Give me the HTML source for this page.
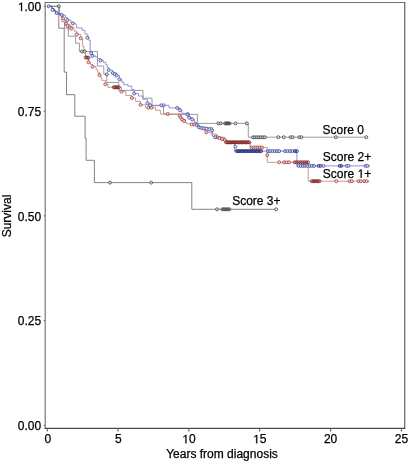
<!DOCTYPE html>
<html><head><meta charset="utf-8"><style>
html,body{margin:0;padding:0;background:#fff;}
body{width:408px;height:461px;overflow:hidden;}
svg{display:block;font-family:"Liberation Sans",sans-serif;}
.h1{fill-opacity:0;stroke-opacity:0;}
</style></head><body>
<svg width="408" height="461" viewBox="0 0 408 461">
<rect width="408" height="461" fill="#fff"/>
<g filter="url(#bl)">

<g fill="none" stroke-width="0.85" stroke-linejoin="miter">
  <path d="M47.0,6.3L58.8,6.3L58.8,28.2L64.2,28.2L64.2,72.1L66.5,72.1L66.5,94.7L74.8,94.7L74.8,116.2L85.1,116.2L85.1,138.2L86.1,138.2L86.1,160.3L94.4,160.3L94.4,182.6L191.8,182.6L191.8,209.3L276.5,209.3" stroke="#736a68"/>
  <path d="M47.0,6.3L59.6,6.3L59.6,15.0L61.9,15.0L61.9,21.8L64.5,21.8L64.5,28.2L68.3,28.2L68.3,36.2L75.6,36.2L75.6,43.2L79.4,43.2L79.4,51.5L97.4,51.5L97.4,66.0L103.8,66.0L103.8,74.3L106.8,74.3L106.8,82.4L118.8,82.4L118.8,90.4L143.0,90.4L143.0,98.2L152.0,98.2L152.0,105.6L163.5,105.6L163.5,114.4L197.4,114.4L197.4,123.4L248.3,123.4L248.3,137.2L366.3,137.2" stroke="#858a8c"/>
  <path d="M47.0,6.3H52.0V8.5H53.9V10.8H55.8V13.2H58.5V14.2H61.0V15.2H63.1V18.4H64.5V21.0H66.0V24.3H69.7V27.2H74.0V31.0H76.8V34.4H80.7V38.3H82.6V46.5H84.0V50.0H85.6V57.4H88.5V62.3H90.5V64.5H92.5V66.7H96.0V69.6H97.7V72.3H99.4V75.0H100.7V77.7H101.9V80.4H105.3V84.3H108.0V87.3H120.0H121.4V91.6H125.8V95.5H131.9V98.0H135.6V101.4H140.5V104.8H145.4V107.7H150.0H155.5V110.3H160.4V113.4V114.0H178.2H180.0V117.0H182.0V119.5H185.5V122.6H186.8V123.8H195.3V124.4H197.8V127.5H202.1V129.9H206.3V132.3H211.2V134.2H217.0V137.2H224.9V140.1H226.9V142.3H250.2V147.5H267.2V162.3H308.2V181.2H369.6" stroke="#c88480"/>
  <path d="M47.0,6.3H52.0V8.5H53.9V10.8H55.8V13.2H58.5V14.2H61.7V15.0H65.4V17.3H67.3V20.1H71.0V22.9H72.9V23.4H75.7V24.8H76.6V28.0H81.3H82.2V30.3H85.0V34.1H87.8V37.8H89.0V40.5H90.2V50.8H91.1V53.1H92.5V55.9H95.3V56.8H97.6V58.7H100.6V60.0H103.2V62.4H105.8V64.7H107.2V67.4H108.7V70.1H112.7V73.0H116.6V75.5H119.5V79.4H121.7V82.1H123.8V84.7H128.0V86.2H131.7V89.6H134.1V93.5H138.5V96.0H142.9V99.2H147.4V103.3H150.0V105.3H162.3H169.0V106.0V107.9H177.0H180.0V110.3H182.0V113.4H187.4V114.6H189.2V117.7H192.3V119.5H194.4V122.2H196.6V125.0H199.4V127.4H212.5V130.3V136.2H215.1V137.2H221.0V140.0H224.9V143.5H234.7V151.1H296.9V165.9H369.6" stroke="#7b84c4"/>
  <path d="M47.0,6.3H52.0V8.5H53.9V10.8H55.8V13.2H58.5V14.2H61.2V15.0" stroke="#6a5c8c" stroke-width="0.9"/>
</g>
<g fill="none" stroke-width="0.8"><circle cx="110.0" cy="182.6" r="1.5" stroke="#4f4240" fill="#e6e2e0" fill-opacity="0.75"/><circle cx="151.2" cy="182.6" r="1.5" stroke="#4f4240" fill="#e6e2e0" fill-opacity="0.75"/><circle cx="217.0" cy="209.3" r="1.5" stroke="#4f4240" fill="#e6e2e0" fill-opacity="0.75"/><circle cx="276.2" cy="209.3" r="1.5" stroke="#4f4240" fill="#e6e2e0" fill-opacity="0.75"/><circle cx="222.3" cy="209.3" r="1.5" stroke="#4f4240" fill="none" fill-opacity="0.75"/><circle cx="223.7" cy="209.3" r="1.5" stroke="#4f4240" fill="none" fill-opacity="0.75"/><circle cx="225.1" cy="209.3" r="1.5" stroke="#4f4240" fill="none" fill-opacity="0.75"/><circle cx="226.5" cy="209.3" r="1.5" stroke="#4f4240" fill="none" fill-opacity="0.75"/><circle cx="227.9" cy="209.3" r="1.5" stroke="#4f4240" fill="none" fill-opacity="0.75"/><circle cx="229.3" cy="209.3" r="1.5" stroke="#4f4240" fill="none" fill-opacity="0.75"/></g>
<g fill="none" stroke-width="0.8"><circle cx="58.8" cy="6.2" r="1.5" stroke="#3c4446" fill="#e2e6e8" fill-opacity="0.75"/><circle cx="82.0" cy="51.5" r="1.5" stroke="#3c4446" fill="#e2e6e8" fill-opacity="0.75"/><circle cx="84.5" cy="51.5" r="1.5" stroke="#3c4446" fill="#e2e6e8" fill-opacity="0.75"/><circle cx="106.8" cy="74.3" r="1.5" stroke="#3c4446" fill="#e2e6e8" fill-opacity="0.75"/><circle cx="187.8" cy="114.2" r="1.5" stroke="#3c4446" fill="#e2e6e8" fill-opacity="0.75"/><circle cx="218.3" cy="123.4" r="1.5" stroke="#3c4446" fill="#e2e6e8" fill-opacity="0.75"/><circle cx="220.8" cy="123.4" r="1.5" stroke="#3c4446" fill="#e2e6e8" fill-opacity="0.75"/><circle cx="225.2" cy="123.4" r="1.5" stroke="#2a3034" fill="none" fill-opacity="0.75"/><circle cx="226.7" cy="123.4" r="1.5" stroke="#2a3034" fill="none" fill-opacity="0.75"/><circle cx="228.1" cy="123.4" r="1.5" stroke="#2a3034" fill="none" fill-opacity="0.75"/><circle cx="229.6" cy="123.4" r="1.5" stroke="#2a3034" fill="none" fill-opacity="0.75"/><circle cx="235.5" cy="123.4" r="1.5" stroke="#3c4446" fill="#e2e6e8" fill-opacity="0.75"/><circle cx="246.8" cy="123.4" r="1.5" stroke="#3c4446" fill="#e2e6e8" fill-opacity="0.75"/><circle cx="253.0" cy="137.3" r="1.5" stroke="#3c4446" fill="#e2e6e8" fill-opacity="0.75"/><circle cx="255.0" cy="137.3" r="1.5" stroke="#3c4446" fill="#e2e6e8" fill-opacity="0.75"/><circle cx="257.0" cy="137.3" r="1.5" stroke="#3c4446" fill="#e2e6e8" fill-opacity="0.75"/><circle cx="259.0" cy="137.3" r="1.5" stroke="#3c4446" fill="#e2e6e8" fill-opacity="0.75"/><circle cx="261.0" cy="137.3" r="1.5" stroke="#3c4446" fill="#e2e6e8" fill-opacity="0.75"/><circle cx="263.0" cy="137.3" r="1.5" stroke="#3c4446" fill="#e2e6e8" fill-opacity="0.75"/><circle cx="265.0" cy="137.3" r="1.5" stroke="#3c4446" fill="#e2e6e8" fill-opacity="0.75"/><circle cx="278.3" cy="137.2" r="1.5" stroke="#3c4446" fill="#e2e6e8" fill-opacity="0.75"/><circle cx="283.7" cy="137.2" r="1.5" stroke="#3c4446" fill="#e2e6e8" fill-opacity="0.75"/><circle cx="290.6" cy="137.2" r="1.5" stroke="#3c4446" fill="#e2e6e8" fill-opacity="0.75"/><circle cx="292.6" cy="137.2" r="1.5" stroke="#3c4446" fill="#e2e6e8" fill-opacity="0.75"/><circle cx="299.4" cy="137.2" r="1.5" stroke="#3c4446" fill="#e2e6e8" fill-opacity="0.75"/><circle cx="301.4" cy="137.2" r="1.5" stroke="#3c4446" fill="#e2e6e8" fill-opacity="0.75"/><circle cx="335.9" cy="137.2" r="1.5" stroke="#3c4446" fill="#e2e6e8" fill-opacity="0.75"/><circle cx="366.3" cy="137.2" r="1.5" stroke="#3c4446" fill="#e2e6e8" fill-opacity="0.75"/></g>
<g fill="none" stroke-width="0.8"><circle cx="63.1" cy="18.4" r="1.5" stroke="#a03a3a" fill="#f4dede" fill-opacity="0.75"/><circle cx="66.0" cy="23.8" r="1.5" stroke="#a03a3a" fill="#f4dede" fill-opacity="0.75"/><circle cx="67.5" cy="25.6" r="1.5" stroke="#a03a3a" fill="#f4dede" fill-opacity="0.75"/><circle cx="69.7" cy="27.2" r="1.5" stroke="#a03a3a" fill="#f4dede" fill-opacity="0.75"/><circle cx="71.2" cy="28.5" r="1.5" stroke="#a03a3a" fill="#f4dede" fill-opacity="0.75"/><circle cx="76.8" cy="34.4" r="1.5" stroke="#a03a3a" fill="#f4dede" fill-opacity="0.75"/><circle cx="80.7" cy="38.3" r="1.5" stroke="#a03a3a" fill="#f4dede" fill-opacity="0.75"/><circle cx="85.6" cy="57.4" r="1.5" stroke="#7e1c1c" fill="none" fill-opacity="0.75"/><circle cx="87.0" cy="57.6" r="1.5" stroke="#7e1c1c" fill="none" fill-opacity="0.75"/><circle cx="88.5" cy="57.8" r="1.5" stroke="#7e1c1c" fill="none" fill-opacity="0.75"/><circle cx="88.5" cy="62.3" r="1.5" stroke="#a03a3a" fill="#f4dede" fill-opacity="0.75"/><circle cx="92.5" cy="66.7" r="1.5" stroke="#a03a3a" fill="#f4dede" fill-opacity="0.75"/><circle cx="99.4" cy="75.0" r="1.5" stroke="#a03a3a" fill="#f4dede" fill-opacity="0.75"/><circle cx="105.3" cy="84.3" r="1.5" stroke="#a03a3a" fill="#f4dede" fill-opacity="0.75"/><circle cx="121.4" cy="91.6" r="1.5" stroke="#a03a3a" fill="#f4dede" fill-opacity="0.75"/><circle cx="131.9" cy="98.0" r="1.5" stroke="#a03a3a" fill="#f4dede" fill-opacity="0.75"/><circle cx="140.5" cy="104.8" r="1.5" stroke="#a03a3a" fill="#f4dede" fill-opacity="0.75"/><circle cx="148.4" cy="107.7" r="1.5" stroke="#a03a3a" fill="#f4dede" fill-opacity="0.75"/><circle cx="151.5" cy="107.7" r="1.5" stroke="#a03a3a" fill="#f4dede" fill-opacity="0.75"/><circle cx="167.8" cy="114.0" r="1.5" stroke="#a03a3a" fill="#f4dede" fill-opacity="0.75"/><circle cx="179.7" cy="115.5" r="1.5" stroke="#a03a3a" fill="#f4dede" fill-opacity="0.75"/><circle cx="180.5" cy="117.5" r="1.5" stroke="#a03a3a" fill="#f4dede" fill-opacity="0.75"/><circle cx="182.1" cy="119.5" r="1.5" stroke="#a03a3a" fill="#f4dede" fill-opacity="0.75"/><circle cx="184.0" cy="121.0" r="1.5" stroke="#a03a3a" fill="#f4dede" fill-opacity="0.75"/><circle cx="191.7" cy="124.4" r="1.5" stroke="#a03a3a" fill="#f4dede" fill-opacity="0.75"/><circle cx="194.5" cy="124.4" r="1.5" stroke="#a03a3a" fill="#f4dede" fill-opacity="0.75"/><circle cx="206.3" cy="132.3" r="1.5" stroke="#a03a3a" fill="#f4dede" fill-opacity="0.75"/><circle cx="217.0" cy="137.2" r="1.5" stroke="#a03a3a" fill="#f4dede" fill-opacity="0.75"/><circle cx="219.5" cy="138.0" r="1.5" stroke="#a03a3a" fill="#f4dede" fill-opacity="0.75"/><circle cx="222.0" cy="139.0" r="1.5" stroke="#a03a3a" fill="#f4dede" fill-opacity="0.75"/><circle cx="224.9" cy="140.1" r="1.5" stroke="#a03a3a" fill="#f4dede" fill-opacity="0.75"/><circle cx="113.8" cy="87.3" r="1.5" stroke="#7e1c1c" fill="none" fill-opacity="0.75"/><circle cx="115.0" cy="87.3" r="1.5" stroke="#7e1c1c" fill="none" fill-opacity="0.75"/><circle cx="116.3" cy="87.3" r="1.5" stroke="#7e1c1c" fill="none" fill-opacity="0.75"/><circle cx="117.5" cy="87.3" r="1.5" stroke="#7e1c1c" fill="none" fill-opacity="0.75"/><circle cx="118.8" cy="87.3" r="1.5" stroke="#7e1c1c" fill="none" fill-opacity="0.75"/><circle cx="226.5" cy="142.3" r="1.5" stroke="#7e1c1c" fill="none" fill-opacity="0.75"/><circle cx="227.8" cy="142.3" r="1.5" stroke="#7e1c1c" fill="none" fill-opacity="0.75"/><circle cx="229.2" cy="142.3" r="1.5" stroke="#7e1c1c" fill="none" fill-opacity="0.75"/><circle cx="230.5" cy="142.3" r="1.5" stroke="#7e1c1c" fill="none" fill-opacity="0.75"/><circle cx="231.8" cy="142.3" r="1.5" stroke="#7e1c1c" fill="none" fill-opacity="0.75"/><circle cx="233.2" cy="142.3" r="1.5" stroke="#7e1c1c" fill="none" fill-opacity="0.75"/><circle cx="234.5" cy="142.3" r="1.5" stroke="#7e1c1c" fill="none" fill-opacity="0.75"/><circle cx="235.8" cy="142.3" r="1.5" stroke="#7e1c1c" fill="none" fill-opacity="0.75"/><circle cx="237.2" cy="142.3" r="1.5" stroke="#7e1c1c" fill="none" fill-opacity="0.75"/><circle cx="238.5" cy="142.3" r="1.5" stroke="#7e1c1c" fill="none" fill-opacity="0.75"/><circle cx="239.9" cy="142.3" r="1.5" stroke="#7e1c1c" fill="none" fill-opacity="0.75"/><circle cx="241.2" cy="142.3" r="1.5" stroke="#7e1c1c" fill="none" fill-opacity="0.75"/><circle cx="242.5" cy="142.3" r="1.5" stroke="#7e1c1c" fill="none" fill-opacity="0.75"/><circle cx="243.9" cy="142.3" r="1.5" stroke="#7e1c1c" fill="none" fill-opacity="0.75"/><circle cx="245.2" cy="142.3" r="1.5" stroke="#7e1c1c" fill="none" fill-opacity="0.75"/><circle cx="246.5" cy="142.3" r="1.5" stroke="#7e1c1c" fill="none" fill-opacity="0.75"/><circle cx="247.9" cy="142.3" r="1.5" stroke="#7e1c1c" fill="none" fill-opacity="0.75"/><circle cx="249.2" cy="142.3" r="1.5" stroke="#7e1c1c" fill="none" fill-opacity="0.75"/><circle cx="251.5" cy="147.5" r="1.5" stroke="#a03a3a" fill="#f4dede" fill-opacity="0.75"/><circle cx="253.6" cy="147.5" r="1.5" stroke="#a03a3a" fill="#f4dede" fill-opacity="0.75"/><circle cx="255.7" cy="147.5" r="1.5" stroke="#a03a3a" fill="#f4dede" fill-opacity="0.75"/><circle cx="257.8" cy="147.5" r="1.5" stroke="#a03a3a" fill="#f4dede" fill-opacity="0.75"/><circle cx="259.9" cy="147.5" r="1.5" stroke="#a03a3a" fill="#f4dede" fill-opacity="0.75"/><circle cx="262.0" cy="147.5" r="1.5" stroke="#a03a3a" fill="#f4dede" fill-opacity="0.75"/><circle cx="267.2" cy="155.1" r="1.5" stroke="#a03a3a" fill="#f4dede" fill-opacity="0.75"/><circle cx="279.2" cy="162.3" r="1.5" stroke="#a03a3a" fill="#f4dede" fill-opacity="0.75"/><circle cx="284.0" cy="162.3" r="1.5" stroke="#a03a3a" fill="#f4dede" fill-opacity="0.75"/><circle cx="286.5" cy="162.3" r="1.5" stroke="#a03a3a" fill="#f4dede" fill-opacity="0.75"/><circle cx="289.0" cy="162.3" r="1.5" stroke="#a03a3a" fill="#f4dede" fill-opacity="0.75"/><circle cx="294.5" cy="162.3" r="1.5" stroke="#7e1c1c" fill="none" fill-opacity="0.75"/><circle cx="296.4" cy="162.3" r="1.5" stroke="#7e1c1c" fill="none" fill-opacity="0.75"/><circle cx="298.4" cy="162.3" r="1.5" stroke="#7e1c1c" fill="none" fill-opacity="0.75"/><circle cx="300.3" cy="162.3" r="1.5" stroke="#7e1c1c" fill="none" fill-opacity="0.75"/><circle cx="302.2" cy="162.3" r="1.5" stroke="#7e1c1c" fill="none" fill-opacity="0.75"/><circle cx="304.1" cy="162.3" r="1.5" stroke="#7e1c1c" fill="none" fill-opacity="0.75"/><circle cx="306.1" cy="162.3" r="1.5" stroke="#7e1c1c" fill="none" fill-opacity="0.75"/><circle cx="308.0" cy="162.3" r="1.5" stroke="#7e1c1c" fill="none" fill-opacity="0.75"/><circle cx="311.8" cy="181.2" r="1.5" stroke="#7e1c1c" fill="none" fill-opacity="0.75"/><circle cx="313.3" cy="181.2" r="1.5" stroke="#7e1c1c" fill="none" fill-opacity="0.75"/><circle cx="314.8" cy="181.2" r="1.5" stroke="#7e1c1c" fill="none" fill-opacity="0.75"/><circle cx="316.4" cy="181.2" r="1.5" stroke="#7e1c1c" fill="none" fill-opacity="0.75"/><circle cx="317.9" cy="181.2" r="1.5" stroke="#7e1c1c" fill="none" fill-opacity="0.75"/><circle cx="319.4" cy="181.2" r="1.5" stroke="#7e1c1c" fill="none" fill-opacity="0.75"/><circle cx="336.3" cy="181.2" r="1.5" stroke="#a03a3a" fill="#f4dede" fill-opacity="0.75"/><circle cx="349.6" cy="181.2" r="1.5" stroke="#a03a3a" fill="#f4dede" fill-opacity="0.75"/><circle cx="351.8" cy="181.2" r="1.5" stroke="#a03a3a" fill="#f4dede" fill-opacity="0.75"/><circle cx="358.6" cy="181.2" r="1.5" stroke="#a03a3a" fill="#f4dede" fill-opacity="0.75"/><circle cx="360.8" cy="181.2" r="1.5" stroke="#a03a3a" fill="#f4dede" fill-opacity="0.75"/><circle cx="364.2" cy="181.2" r="1.5" stroke="#a03a3a" fill="#f4dede" fill-opacity="0.75"/><circle cx="366.6" cy="181.2" r="1.5" stroke="#a03a3a" fill="#f4dede" fill-opacity="0.75"/></g>
<g fill="none" stroke-width="0.8"><circle cx="48.6" cy="6.3" r="1.5" stroke="#3e4aa4" fill="#dfe2f6" fill-opacity="0.75"/><circle cx="52.6" cy="9.9" r="1.5" stroke="#3e4aa4" fill="#dfe2f6" fill-opacity="0.75"/><circle cx="56.6" cy="13.0" r="1.5" stroke="#3e4aa4" fill="#dfe2f6" fill-opacity="0.75"/><circle cx="61.7" cy="15.0" r="1.5" stroke="#3e4aa4" fill="#dfe2f6" fill-opacity="0.75"/><circle cx="67.3" cy="20.1" r="1.5" stroke="#3e4aa4" fill="#dfe2f6" fill-opacity="0.75"/><circle cx="72.9" cy="23.4" r="1.5" stroke="#3e4aa4" fill="#dfe2f6" fill-opacity="0.75"/><circle cx="87.3" cy="37.8" r="1.5" stroke="#3e4aa4" fill="#dfe2f6" fill-opacity="0.75"/><circle cx="91.1" cy="53.1" r="1.5" stroke="#3e4aa4" fill="#dfe2f6" fill-opacity="0.75"/><circle cx="92.5" cy="55.9" r="1.5" stroke="#3e4aa4" fill="#dfe2f6" fill-opacity="0.75"/><circle cx="100.4" cy="60.5" r="1.5" stroke="#3e4aa4" fill="#dfe2f6" fill-opacity="0.75"/><circle cx="108.7" cy="70.1" r="1.5" stroke="#3e4aa4" fill="#dfe2f6" fill-opacity="0.75"/><circle cx="112.7" cy="73.0" r="1.5" stroke="#3e4aa4" fill="#dfe2f6" fill-opacity="0.75"/><circle cx="114.6" cy="74.2" r="1.5" stroke="#3e4aa4" fill="#dfe2f6" fill-opacity="0.75"/><circle cx="116.6" cy="75.5" r="1.5" stroke="#3e4aa4" fill="#dfe2f6" fill-opacity="0.75"/><circle cx="119.5" cy="79.4" r="1.5" stroke="#3e4aa4" fill="#dfe2f6" fill-opacity="0.75"/><circle cx="134.1" cy="93.5" r="1.5" stroke="#3e4aa4" fill="#dfe2f6" fill-opacity="0.75"/><circle cx="147.4" cy="103.3" r="1.5" stroke="#3e4aa4" fill="#dfe2f6" fill-opacity="0.75"/><circle cx="150.2" cy="105.3" r="1.5" stroke="#3e4aa4" fill="#dfe2f6" fill-opacity="0.75"/><circle cx="161.3" cy="105.3" r="1.5" stroke="#3e4aa4" fill="#dfe2f6" fill-opacity="0.75"/><circle cx="163.7" cy="105.3" r="1.5" stroke="#3e4aa4" fill="#dfe2f6" fill-opacity="0.75"/><circle cx="177.2" cy="107.9" r="1.5" stroke="#3e4aa4" fill="#dfe2f6" fill-opacity="0.75"/><circle cx="180.0" cy="110.3" r="1.5" stroke="#3e4aa4" fill="#dfe2f6" fill-opacity="0.75"/><circle cx="187.4" cy="114.6" r="1.5" stroke="#3e4aa4" fill="#dfe2f6" fill-opacity="0.75"/><circle cx="189.2" cy="117.7" r="1.5" stroke="#3e4aa4" fill="#dfe2f6" fill-opacity="0.75"/><circle cx="192.3" cy="119.5" r="1.5" stroke="#3e4aa4" fill="#dfe2f6" fill-opacity="0.75"/><circle cx="196.6" cy="125.0" r="1.5" stroke="#3e4aa4" fill="#dfe2f6" fill-opacity="0.75"/><circle cx="199.0" cy="127.4" r="1.5" stroke="#3e4aa4" fill="#dfe2f6" fill-opacity="0.75"/><circle cx="201.5" cy="127.8" r="1.5" stroke="#3e4aa4" fill="#dfe2f6" fill-opacity="0.75"/><circle cx="204.0" cy="128.3" r="1.5" stroke="#3e4aa4" fill="#dfe2f6" fill-opacity="0.75"/><circle cx="206.5" cy="128.8" r="1.5" stroke="#3e4aa4" fill="#dfe2f6" fill-opacity="0.75"/><circle cx="209.5" cy="129.5" r="1.5" stroke="#3e4aa4" fill="#dfe2f6" fill-opacity="0.75"/><circle cx="212.2" cy="130.3" r="1.5" stroke="#3e4aa4" fill="#dfe2f6" fill-opacity="0.75"/><circle cx="215.1" cy="137.2" r="1.5" stroke="#3e4aa4" fill="#dfe2f6" fill-opacity="0.75"/><circle cx="235.3" cy="146.6" r="1.5" stroke="#3e4aa4" fill="#dfe2f6" fill-opacity="0.75"/><circle cx="236.5" cy="151.1" r="1.5" stroke="#1e2a80" fill="none" fill-opacity="0.75"/><circle cx="237.9" cy="151.1" r="1.5" stroke="#1e2a80" fill="none" fill-opacity="0.75"/><circle cx="239.2" cy="151.1" r="1.5" stroke="#1e2a80" fill="none" fill-opacity="0.75"/><circle cx="240.6" cy="151.1" r="1.5" stroke="#1e2a80" fill="none" fill-opacity="0.75"/><circle cx="242.0" cy="151.1" r="1.5" stroke="#1e2a80" fill="none" fill-opacity="0.75"/><circle cx="243.4" cy="151.1" r="1.5" stroke="#1e2a80" fill="none" fill-opacity="0.75"/><circle cx="244.7" cy="151.1" r="1.5" stroke="#1e2a80" fill="none" fill-opacity="0.75"/><circle cx="246.1" cy="151.1" r="1.5" stroke="#1e2a80" fill="none" fill-opacity="0.75"/><circle cx="247.5" cy="151.1" r="1.5" stroke="#1e2a80" fill="none" fill-opacity="0.75"/><circle cx="248.8" cy="151.1" r="1.5" stroke="#1e2a80" fill="none" fill-opacity="0.75"/><circle cx="250.2" cy="151.1" r="1.5" stroke="#1e2a80" fill="none" fill-opacity="0.75"/><circle cx="251.6" cy="151.1" r="1.5" stroke="#1e2a80" fill="none" fill-opacity="0.75"/><circle cx="253.0" cy="151.1" r="1.5" stroke="#1e2a80" fill="none" fill-opacity="0.75"/><circle cx="254.3" cy="151.1" r="1.5" stroke="#1e2a80" fill="none" fill-opacity="0.75"/><circle cx="255.7" cy="151.1" r="1.5" stroke="#1e2a80" fill="none" fill-opacity="0.75"/><circle cx="257.1" cy="151.1" r="1.5" stroke="#1e2a80" fill="none" fill-opacity="0.75"/><circle cx="258.5" cy="151.1" r="1.5" stroke="#1e2a80" fill="none" fill-opacity="0.75"/><circle cx="259.8" cy="151.1" r="1.5" stroke="#1e2a80" fill="none" fill-opacity="0.75"/><circle cx="261.2" cy="151.1" r="1.5" stroke="#1e2a80" fill="none" fill-opacity="0.75"/><circle cx="268.0" cy="151.1" r="1.5" stroke="#3e4aa4" fill="#dfe2f6" fill-opacity="0.75"/><circle cx="270.2" cy="151.1" r="1.5" stroke="#3e4aa4" fill="#dfe2f6" fill-opacity="0.75"/><circle cx="272.5" cy="151.1" r="1.5" stroke="#3e4aa4" fill="#dfe2f6" fill-opacity="0.75"/><circle cx="274.7" cy="151.1" r="1.5" stroke="#3e4aa4" fill="#dfe2f6" fill-opacity="0.75"/><circle cx="277.0" cy="151.1" r="1.5" stroke="#3e4aa4" fill="#dfe2f6" fill-opacity="0.75"/><circle cx="279.2" cy="151.1" r="1.5" stroke="#3e4aa4" fill="#dfe2f6" fill-opacity="0.75"/><circle cx="285.0" cy="151.1" r="1.5" stroke="#3e4aa4" fill="#dfe2f6" fill-opacity="0.75"/><circle cx="287.5" cy="151.1" r="1.5" stroke="#3e4aa4" fill="#dfe2f6" fill-opacity="0.75"/><circle cx="290.0" cy="151.1" r="1.5" stroke="#3e4aa4" fill="#dfe2f6" fill-opacity="0.75"/><circle cx="292.5" cy="151.1" r="1.5" stroke="#3e4aa4" fill="#dfe2f6" fill-opacity="0.75"/><circle cx="295.0" cy="151.1" r="1.5" stroke="#1e2a80" fill="none" fill-opacity="0.75"/><circle cx="296.9" cy="151.1" r="1.5" stroke="#1e2a80" fill="none" fill-opacity="0.75"/><circle cx="298.5" cy="165.9" r="1.5" stroke="#3e4aa4" fill="#dfe2f6" fill-opacity="0.75"/><circle cx="300.7" cy="165.9" r="1.5" stroke="#3e4aa4" fill="#dfe2f6" fill-opacity="0.75"/><circle cx="302.9" cy="165.9" r="1.5" stroke="#3e4aa4" fill="#dfe2f6" fill-opacity="0.75"/><circle cx="305.1" cy="165.9" r="1.5" stroke="#3e4aa4" fill="#dfe2f6" fill-opacity="0.75"/><circle cx="307.4" cy="165.9" r="1.5" stroke="#3e4aa4" fill="#dfe2f6" fill-opacity="0.75"/><circle cx="309.6" cy="165.9" r="1.5" stroke="#3e4aa4" fill="#dfe2f6" fill-opacity="0.75"/><circle cx="311.8" cy="165.9" r="1.5" stroke="#3e4aa4" fill="#dfe2f6" fill-opacity="0.75"/><circle cx="314.0" cy="165.9" r="1.5" stroke="#3e4aa4" fill="#dfe2f6" fill-opacity="0.75"/><circle cx="318.6" cy="165.9" r="1.5" stroke="#1e2a80" fill="none" fill-opacity="0.75"/><circle cx="320.5" cy="165.9" r="1.5" stroke="#1e2a80" fill="none" fill-opacity="0.75"/><circle cx="323.5" cy="165.9" r="1.5" stroke="#3e4aa4" fill="#dfe2f6" fill-opacity="0.75"/><circle cx="339.8" cy="165.9" r="1.5" stroke="#1e2a80" fill="none" fill-opacity="0.75"/><circle cx="341.4" cy="165.9" r="1.5" stroke="#1e2a80" fill="none" fill-opacity="0.75"/><circle cx="346.6" cy="165.9" r="1.5" stroke="#3e4aa4" fill="#dfe2f6" fill-opacity="0.75"/><circle cx="348.6" cy="165.9" r="1.5" stroke="#3e4aa4" fill="#dfe2f6" fill-opacity="0.75"/><circle cx="365.5" cy="165.9" r="1.5" stroke="#3e4aa4" fill="#dfe2f6" fill-opacity="0.75"/><circle cx="367.5" cy="165.9" r="1.5" stroke="#3e4aa4" fill="#dfe2f6" fill-opacity="0.75"/></g>

</g>
<g fill="none" stroke-linecap="square">
<line x1="45.2" y1="2.5" x2="404.7" y2="2.5" stroke="#727272" stroke-width="1.15"/>
<line x1="45.2" y1="2.5" x2="45.2" y2="428.4" stroke="#747474" stroke-width="1.15"/>
<line x1="404.7" y1="2.5" x2="404.7" y2="428.4" stroke="#646464" stroke-width="1.2"/>
<line x1="45.2" y1="428.4" x2="404.7" y2="428.4" stroke="#4c4c4c" stroke-width="1.1"/>
</g>
<g stroke="#505050" stroke-width="1"><line x1="43.8" y1="6.3" x2="45" y2="6.3"/><line x1="43.8" y1="111.1" x2="45" y2="111.1"/><line x1="43.8" y1="215.9" x2="45" y2="215.9"/><line x1="43.8" y1="320.6" x2="45" y2="320.6"/><line x1="43.8" y1="425.4" x2="45" y2="425.4"/><line x1="47.2" y1="428.5" x2="47.2" y2="431.5"/><line x1="118.0" y1="428.5" x2="118.0" y2="431.5"/><line x1="188.9" y1="428.5" x2="188.9" y2="431.5"/><line x1="259.7" y1="428.5" x2="259.7" y2="431.5"/><line x1="330.6" y1="428.5" x2="330.6" y2="431.5"/><line x1="401.4" y1="428.5" x2="401.4" y2="431.5"/></g>
<g font-size="12" fill="#000" stroke="#000" stroke-width="0.25" filter="url(#tb)">
<text x="41.2" y="11.0" text-anchor="end"><tspan class="h1">1</tspan>.00</text><text x="41.2" y="115.8" text-anchor="end">0.75</text><text x="41.2" y="220.6" text-anchor="end">0.50</text><text x="41.2" y="325.3" text-anchor="end">0.25</text><text x="41.2" y="430.1" text-anchor="end">0.00</text>
<text x="47.8" y="443.3" text-anchor="middle">0</text><text x="118.4" y="443.3" text-anchor="middle">5</text><text x="188.9" y="443.3" text-anchor="middle"><tspan class="h1">1</tspan>0</text><text x="259.7" y="443.3" text-anchor="middle"><tspan class="h1">1</tspan>5</text><text x="330.6" y="443.3" text-anchor="middle">20</text><text x="401.4" y="443.3" text-anchor="middle">25</text>
<text x="222" y="457.5" text-anchor="middle">Years from diagnosis</text>
<text transform="translate(11.0,216) rotate(-90)" text-anchor="middle">Survival</text>
<text x="322.6" y="134.0">Score 0</text>
<text x="322.8" y="161.0">Score 2+</text>
<text x="322.8" y="177.8">Score <tspan class="h1">1</tspan>+</text>
<text x="232.2" y="204.8">Score 3+</text>
<path transform="translate(17.83,11.00) scale(0.005859,-0.005859)" stroke-width="42.7" d="M540,0L540,1237L222,1010L222,1180L555,1409L721,1409L721,0Z"/><path transform="translate(182.21,443.30) scale(0.005859,-0.005859)" stroke-width="42.7" d="M540,0L540,1237L222,1010L222,1180L555,1409L721,1409L721,0Z"/><path transform="translate(253.01,443.30) scale(0.005859,-0.005859)" stroke-width="42.7" d="M540,0L540,1237L222,1010L222,1180L555,1409L721,1409L721,0Z"/><path transform="translate(357.49,177.80) scale(0.005859,-0.005859)" stroke-width="42.7" d="M540,0L540,1237L222,1010L222,1180L555,1409L721,1409L721,0Z"/>
</g>
<defs><filter id="tb" x="-5%" y="-5%" width="110%" height="110%"><feGaussianBlur stdDeviation="0.2"/></filter><filter id="bl" x="-5%" y="-5%" width="110%" height="110%"><feGaussianBlur stdDeviation="0.35"/></filter></defs>
</svg>
</body></html>
